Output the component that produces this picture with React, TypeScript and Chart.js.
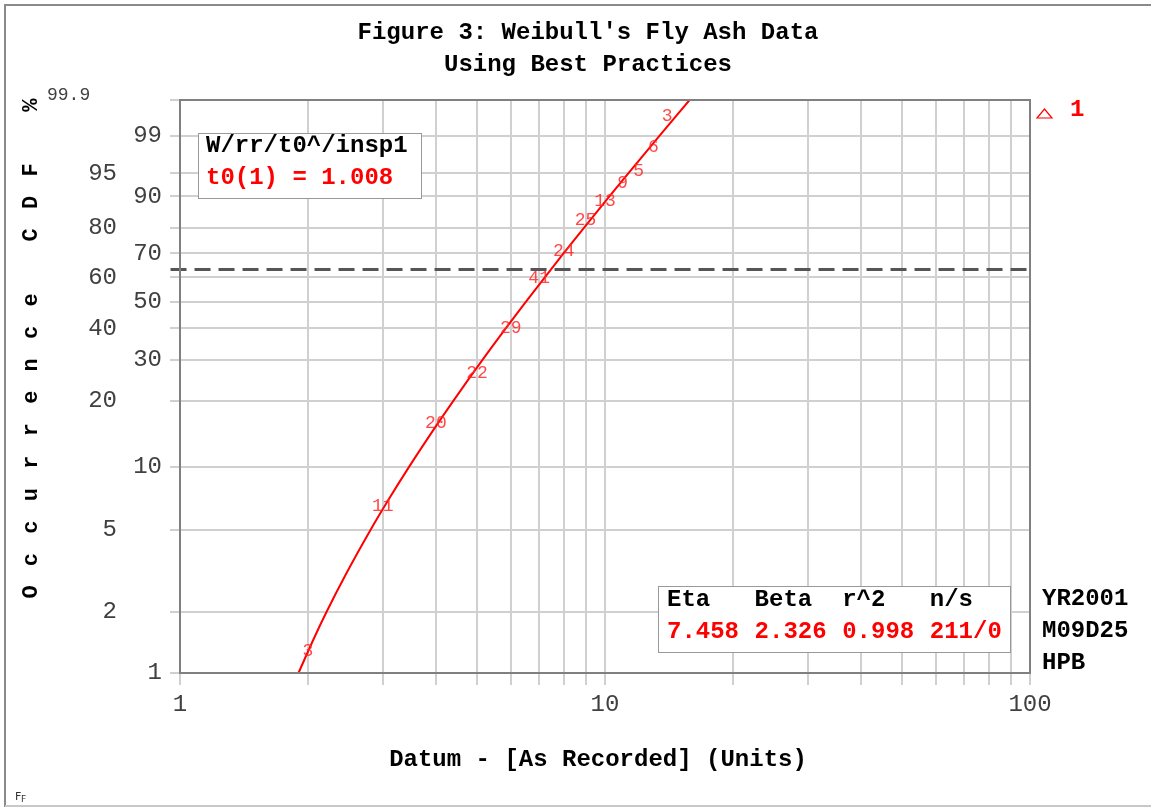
import React, { useEffect, useRef } from 'react';
import { Chart, registerables, LinearScale } from 'chart.js';

// ---------- data ----------
const yTickPercents = [1, 2, 5, 10, 20, 30, 40, 50, 60, 70, 80, 90, 95, 99, 99.9];
const yNearLabels = ['99', '90', '70', '50', '30', '10', '1'];
const yFarLabels = ['95', '80', '60', '40', '20', '5', '2'];
const yTopLabel = '99.9';
const xTickValues = [1, 2, 3, 4, 5, 6, 7, 8, 9, 10, 20, 30, 40, 50, 60, 70, 80, 90, 100];
const xTickLabels = ['1', '10', '100'];

// grouped fly-ash data: interval end (x), cumulative occurrence % (median rank), group count
const pointX = [2, 3, 4, 5, 6, 7, 8, 9, 10, 11, 12, 13, 14];
const pointF = [1.277, 6.481, 15.941, 26.348, 40.066, 59.461, 70.813, 82.64, 88.789, 93.046, 95.412, 98.25, 99.669];
const pointCounts = ['3', '11', '20', '22', '29', '41', '24', '25', '13', '9', '5', '6', '3'];

// fitted line
const fitX = [1.9, 2.072, 2.213, 2.446, 2.807, 3.096, 3.459, 3.962, 4.393, 5.149, 5.84, 6.518, 7.458, 7.994, 8.922, 10.24, 11.345, 13.445, 15.813];
const fitF = [1, 1.5, 2, 3, 5, 7, 10, 15, 20, 30, 40, 50, 63.2, 70, 80, 90, 95, 99, 99.9];

const charLifeX = [0.95, 100];
const charLifeF = [63.2, 63.2];

const titleLines = ["Figure 3: Weibull's Fly Ash Data", 'Using Best Practices'];
const xTitle = 'Datum - [As Recorded] (Units)';
const yTitle = 'O c c u r r e n c e   C D F   %';
const box1Lines = ['W/rr/t0^/insp1', 't0(1) = 1.008'];
const box2Head = ['Eta', 'Beta', 'r^2', 'n/s'];
const box2Vals = ['7.458', '2.326', '0.998', '211/0'];
const sideLines = ['YR2001', 'M09D25', 'HPB'];
const legendLabel = '1';

// ---------- Weibull probability scale ----------
const toW = (p: number) => Math.log(-Math.log(1 - p / 100));
const fromW = (w: number) => 100 * (1 - Math.exp(-Math.exp(w)));

class WeibullScale extends LinearScale {
  static id = 'weibull';
  static defaults = {};
  determineDataLimits() {
    const o: any = this.options;
    this.min = toW(o.min);
    this.max = toW(o.max);
  }
  buildTicks() {
    return yTickPercents.map((v) => ({ value: v }));
  }
  getPixelForValue(value: any) {
    if (value === null || value === undefined) return NaN;
    return super.getPixelForValue(toW(value));
  }
  getValueForPixel(pixel: number) {
    return fromW(super.getValueForPixel(pixel) as number);
  }
}

Chart.register(...registerables, WeibullScale as any);

const MONO = '"Liberation Mono", "Courier New", monospace';
const RED = '#ff0000';
const TICK_COLOR = '#404040';

function text(ctx: CanvasRenderingContext2D, s: string, x: number, y: number, font: string, color: string, align: CanvasTextAlign = 'left') {
  ctx.font = font;
  ctx.fillStyle = color;
  ctx.textAlign = align;
  ctx.textBaseline = 'middle';
  ctx.fillText(s, x, y);
}

const decor = {
  id: 'weibullDecor',
  beforeDraw(chart: any) {
    const ctx: CanvasRenderingContext2D = chart.ctx;
    ctx.save();
    ctx.fillStyle = '#ffffff';
    ctx.fillRect(0, 0, chart.width, chart.height);
    ctx.lineWidth = 2;
    ctx.strokeStyle = '#8a8a8a';
    ctx.beginPath();
    ctx.moveTo(5, 807);
    ctx.lineTo(5, 5);
    ctx.lineTo(chart.width, 5);
    ctx.stroke();
    ctx.strokeStyle = '#c8c8c8';
    ctx.beginPath();
    ctx.moveTo(5, 806);
    ctx.lineTo(chart.width, 806);
    ctx.stroke();
    ctx.restore();
  },
  afterDatasetsDraw(chart: any) {
    const ctx: CanvasRenderingContext2D = chart.ctx;
    const a = chart.chartArea;
    ctx.save();
    // count labels at data points
    const meta = chart.getDatasetMeta(2);
    meta.data.forEach((pt: any, i: number) => {
      text(ctx, pointCounts[i], pt.x, pt.y, '18px ' + MONO, 'rgba(255,40,40,0.85)', 'center');
    });
    // plot border
    ctx.strokeStyle = '#808080';
    ctx.lineWidth = 2;
    ctx.strokeRect(a.left, a.top, a.right - a.left, a.bottom - a.top);
    ctx.restore();
  },
  afterDraw(chart: any) {
    const ctx: CanvasRenderingContext2D = chart.ctx;
    const a = chart.chartArea;
    const xs = chart.scales.x;
    const ys = chart.scales.y;
    ctx.save();
    // titles
    text(ctx, titleLines[0], 588, 33, 'bold 24px ' + MONO, '#000', 'center');
    text(ctx, titleLines[1], 588, 65, 'bold 24px ' + MONO, '#000', 'center');
    // x title
    text(ctx, xTitle, 598, 760, 'bold 24px ' + MONO, '#000', 'center');
    // y tick labels
    const tickFont = '24px ' + MONO;
    yNearLabels.forEach((l) => text(ctx, l, a.left - 18, ys.getPixelForValue(Number(l)), tickFont, TICK_COLOR, 'right'));
    yFarLabels.forEach((l) => text(ctx, l, a.left - 63, ys.getPixelForValue(Number(l)), tickFont, TICK_COLOR, 'right'));
    text(ctx, yTopLabel, 47, ys.getPixelForValue(Number(yTopLabel)) - 5, '18px ' + MONO, TICK_COLOR, 'left');
    // x tick labels
    xTickLabels.forEach((l) => text(ctx, l, xs.getPixelForValue(Number(l)), a.bottom + 32, tickFont, TICK_COLOR, 'center'));
    // y title (rotated letters)
    ctx.font = 'bold 22px ' + MONO;
    ctx.fillStyle = '#000';
    ctx.textAlign = 'center';
    ctx.textBaseline = 'middle';
    for (let i = 0; i < yTitle.length; i++) {
      const ch = yTitle[i];
      if (ch === ' ') continue;
      ctx.save();
      ctx.translate(31, 592 - i * 16.23);
      ctx.rotate(-Math.PI / 2);
      ctx.fillText(ch, 0, 0);
      ctx.restore();
    }
    // box 1
    ctx.fillStyle = '#fff';
    ctx.fillRect(198.5, 133.5, 223, 65);
    ctx.strokeStyle = '#999';
    ctx.lineWidth = 1;
    ctx.strokeRect(198.5, 133.5, 223, 65);
    text(ctx, box1Lines[0], 206, 146, 'bold 24px ' + MONO, '#000');
    text(ctx, box1Lines[1], 206, 178, 'bold 24px ' + MONO, RED);
    // box 2
    ctx.fillStyle = '#fff';
    ctx.fillRect(658.5, 586.5, 352, 66);
    ctx.strokeStyle = '#999';
    ctx.strokeRect(658.5, 586.5, 352, 66);
    box2Head.forEach((s, i) => text(ctx, s, 667 + i * 87.6, 600, 'bold 24px ' + MONO, '#000'));
    box2Vals.forEach((s, i) => text(ctx, s, 667 + i * 87.6, 632, 'bold 24px ' + MONO, RED));
    // side texts
    sideLines.forEach((s, i) => text(ctx, s, 1042, 599 + i * 32, 'bold 24px ' + MONO, '#000'));
    // legend
    ctx.strokeStyle = RED;
    ctx.lineWidth = 1.2;
    ctx.beginPath();
    ctx.moveTo(1037, 118);
    ctx.lineTo(1052, 118);
    ctx.lineTo(1044.5, 109);
    ctx.closePath();
    ctx.stroke();
    text(ctx, legendLabel, 1070, 110, 'bold 24px ' + MONO, RED);
    // FF mark
    text(ctx, 'F', 15, 797, '11px "DejaVu Sans", sans-serif', '#333');
    text(ctx, 'F', 21, 800, '9px "DejaVu Sans", sans-serif', '#333');
    ctx.restore();
  },
};

export default function App() {
  const ref = useRef<HTMLCanvasElement>(null);
  useEffect(() => {
    document.body.style.margin = '0';
    const chart = new Chart(ref.current as HTMLCanvasElement, {
      type: 'line',
      data: {
        datasets: [
          {
            data: fitX.map((x, i) => ({ x, y: fitF[i] })),
            borderColor: RED,
            borderWidth: 2,
            pointRadius: 0,
            cubicInterpolationMode: 'monotone',
          },
          {
            data: charLifeX.map((x, i) => ({ x, y: charLifeF[i] })),
            borderColor: '#555555',
            borderWidth: 3,
            borderDash: [16, 8],
            pointRadius: 0,
            clip: false,
          },
          {
            data: pointX.map((x, i) => ({ x, y: pointF[i] })),
            showLine: false,
            pointRadius: 0,
          },
        ],
      } as any,
      options: {
        responsive: false,
        animation: false,
        events: [],
        layout: { padding: { top: 100, right: 121, left: 0, bottom: 0 } },
        plugins: { legend: { display: false }, title: { display: false }, tooltip: { enabled: false } },
        scales: {
          x: {
            type: 'logarithmic',
            position: 'bottom',
            min: 1,
            max: 100,
            afterBuildTicks: (s: any) => {
              s.ticks = xTickValues.map((v) => ({ value: v }));
            },
            afterFit: (s: any) => {
              s.height = 135;
            },
            ticks: { display: false },
            grid: { color: '#d0d0d0', lineWidth: 2, drawTicks: true, tickLength: 12 },
            border: { display: false },
          },
          y: {
            type: 'weibull',
            position: 'left',
            min: 1,
            max: 99.9,
            afterFit: (s: any) => {
              s.width = 180;
            },
            ticks: { display: false, callback: () => '' },
            grid: { color: '#d0d0d0', lineWidth: 2, drawTicks: true, tickLength: 10 },
            border: { display: false },
          },
        },
      } as any,
      plugins: [decor],
    });
    return () => chart.destroy();
  }, []);
  return <canvas ref={ref} width={1151} height={808} style={{ display: 'block', width: 1151, height: 808 }} />;
}
